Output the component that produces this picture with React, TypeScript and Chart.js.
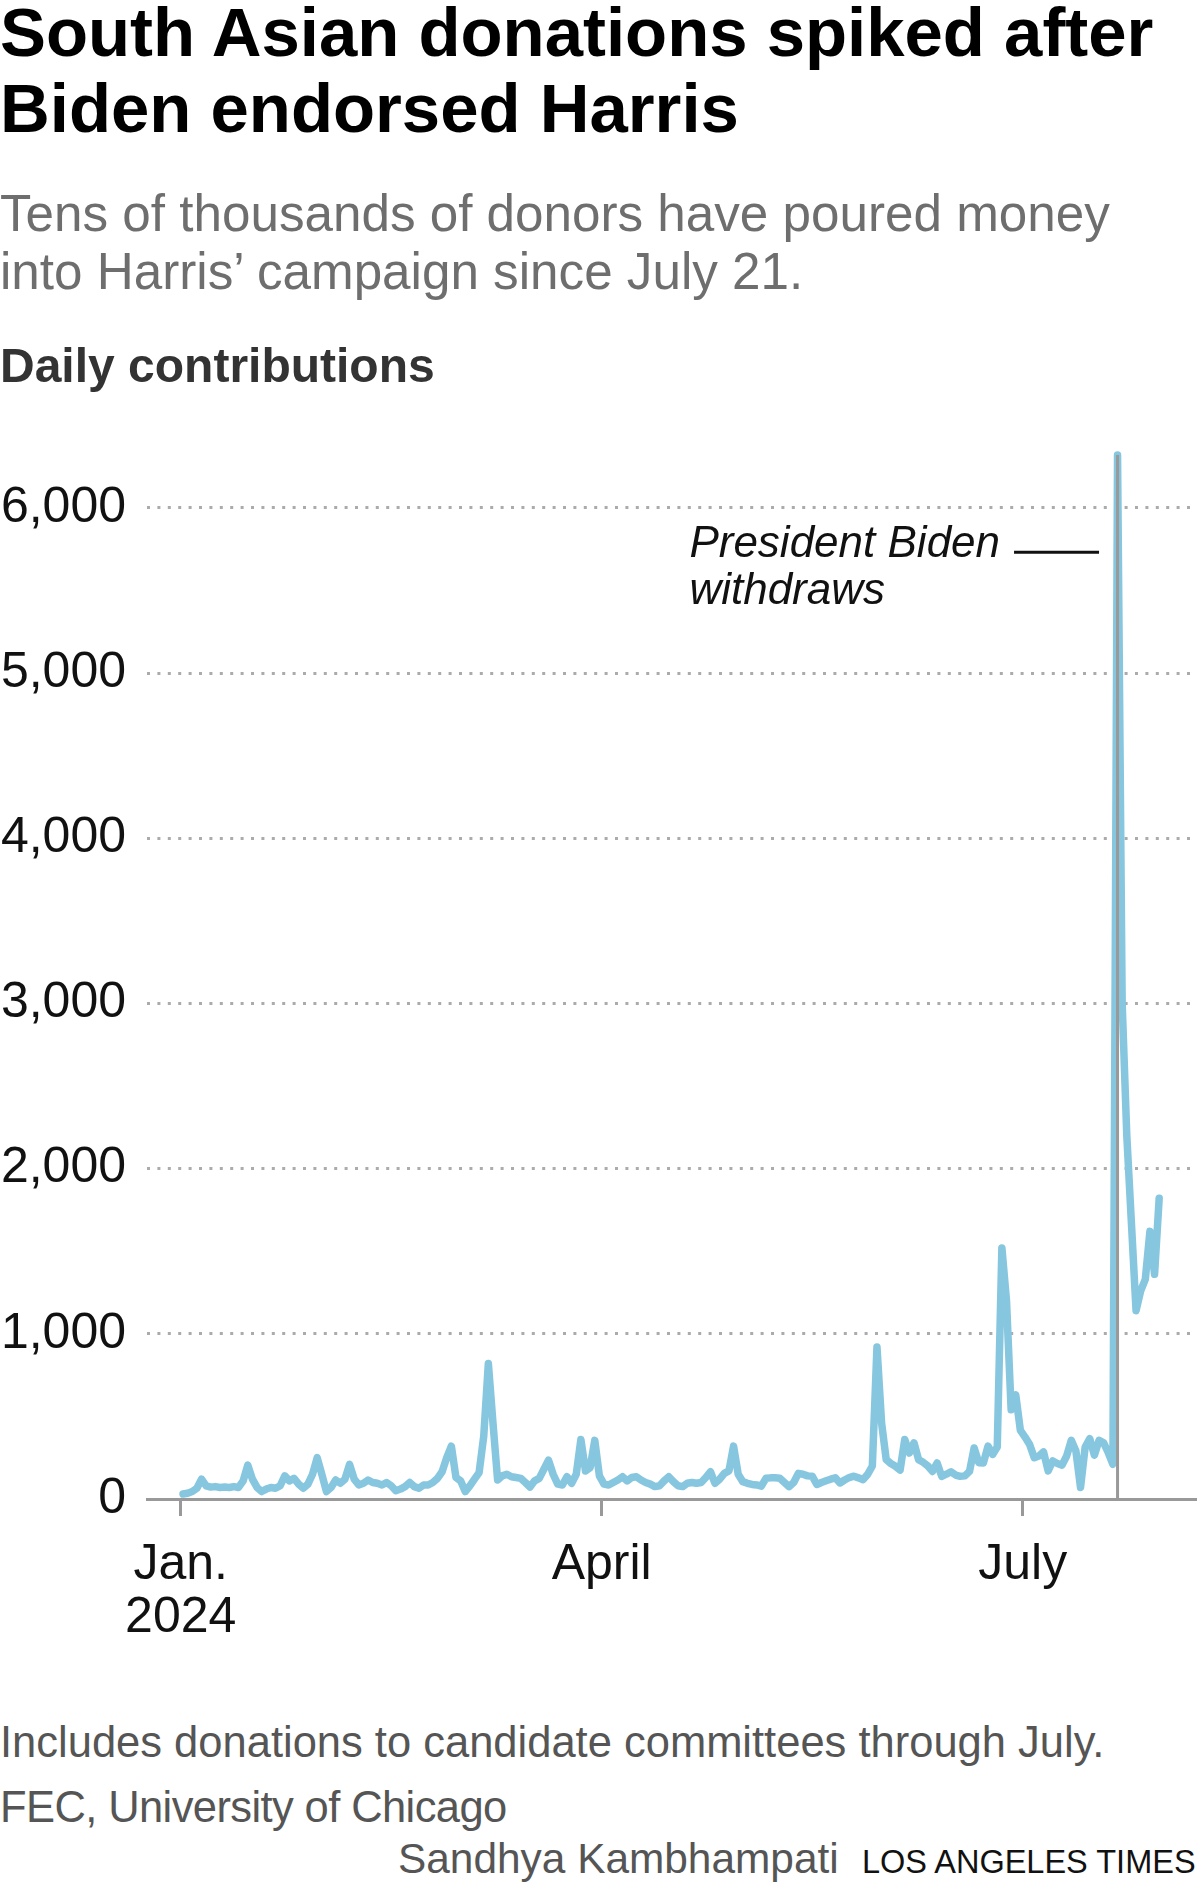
import React, { useEffect, useRef } from "react";
import { Chart, registerables } from "chart.js";

Chart.register(...registerables);

// ---------- DATA ----------
const startDate = "2024-01-01";
// Daily contributions, one value per day starting Jan. 1, 2024
const dailyContributions: number[] = [
  30, 35, 45, 65, 120, 80, 72, 75, 70, 72,
  70, 75, 70, 110, 205, 120, 70, 45, 60, 70,
  65, 80, 140, 110, 125, 90, 65, 90, 150, 250,
  150, 45, 70, 115, 95, 120, 210, 120, 85, 95,
  115, 100, 95, 85, 100, 80, 50, 60, 75, 100,
  75, 65, 85, 85, 100, 125, 165, 250, 320, 130,
  110, 45, 80, 120, 160, 380, 820, 460, 115, 140,
  150, 135, 130, 125, 100, 72, 110, 125, 180, 235,
  150, 90, 85, 135, 95, 150, 360, 170, 190, 355,
  140, 90, 85, 100, 115, 135, 110, 130, 135, 115,
  100, 90, 75, 80, 110, 135, 105, 80, 75, 95,
  100, 95, 100, 130, 165, 95, 120, 155, 170, 320,
  150, 105, 95, 88, 85, 78, 125, 128, 128, 126,
  100, 75, 100, 155, 150, 140, 138, 88, 100, 110,
  120, 128, 97, 115, 130, 138, 128, 117, 150, 200,
  920, 460, 238, 215, 198, 175, 360, 278, 340, 238,
  222, 200, 167, 218, 137, 150, 165, 145, 137, 140,
  167, 309, 220, 218, 320, 270, 315, 1520, 1200, 540,
  630, 415, 375, 330, 250, 260, 285, 170, 230, 215,
  205, 260, 355, 290, 70, 315, 365, 265, 355, 340,
  280, 210, 6320, 3000, 2200, 1670, 1140, 1260, 1330, 1620,
  1360, 1820,
];
const yTickValues = [0, 1000, 2000, 3000, 4000, 5000, 6000];
const xTickDays = [0, 91, 182]; // days since Jan. 1: Jan. 1, April 1, July 1
const xTickLabels = [["Jan.", "2024"], ["April"], ["July"]];
const annotationDay = 202; // July 21
const annotationLabel = ["President Biden", "withdraws"];

const titleLines = ["South Asian donations spiked after", "Biden endorsed Harris"];
const subtitleLines = ["Tens of thousands of donors have poured money", "into Harris\u2019 campaign since July 21."];
const axisTitle = "Daily contributions";
const noteText = "Includes donations to candidate committees through July.";
const sourceText = "FEC, University of Chicago";
const bylineText = "Sandhya Kambhampati";
const outletText = "LOS ANGELES TIMES";

// ---------- STYLE ----------
const SANS = "'Liberation Sans', Arial, Helvetica, sans-serif";
const LINE_COLOR = "#86c6df";
const GRID_COLOR = "#ababab";
const AXIS_COLOR = "#999999";

const CANVAS_TOP = 300;
const CANVAS_H = 1380;

type TProps = {
  text: string;
  left: number;
  baseline: number;
  size: number;
  weight?: number;
  color?: string;
  italic?: boolean;
  spacing?: number;
};

const T = ({ text, left, baseline, size, weight = 400, color = "#000", italic = false, spacing = 0 }: TProps) => (
  <div
    style={{
      position: "absolute",
      left,
      top: baseline - 0.8465 * size,
      fontSize: size,
      lineHeight: `${size}px`,
      fontWeight: weight,
      fontStyle: italic ? "italic" : "normal",
      letterSpacing: spacing,
      color,
      fontFamily: SANS,
      whiteSpace: "nowrap",
    }}
  >
    {text}
  </div>
);

const annotationPlugin = {
  id: "bidenWithdraws",
  afterDatasetsDraw(chart: any) {
    const { ctx } = chart;
    const xs = chart.scales.x;
    const ys = chart.scales.y;
    const px = xs.getPixelForValue(annotationDay + 0.5);
    const top = ys.getPixelForValue(dailyContributions[annotationDay]);
    const bottom = ys.getPixelForValue(0);
    ctx.save();
    ctx.strokeStyle = AXIS_COLOR;
    ctx.lineWidth = 3;
    ctx.beginPath();
    ctx.moveTo(px, bottom);
    ctx.lineTo(px, top);
    ctx.stroke();

    const ty = ys.getPixelForValue(5700);
    ctx.font = `italic 44px ${SANS}`;
    ctx.fillStyle = "#111";
    ctx.textBaseline = "alphabetic";
    ctx.textAlign = "left";
    const w = ctx.measureText(annotationLabel[0]).width;
    const left = px - 117.5 - w;
    ctx.fillText(annotationLabel[0], left, ty);
    ctx.fillText(annotationLabel[1], left, ty + 47);

    ctx.strokeStyle = "#111";
    ctx.lineWidth = 3;
    ctx.beginPath();
    ctx.moveTo(px - 103.5, ty - 5);
    ctx.lineTo(px - 18.5, ty - 5);
    ctx.stroke();
    ctx.restore();
  },
};

function DonationsChart() {
  const ref = useRef<HTMLCanvasElement | null>(null);
  useEffect(() => {
    if (!ref.current) return;
    const pxPerDay = 842 / 182;
    const areaLeft = 147;
    const areaRight = 1195;
    const xMin = -(180.7 - areaLeft) / pxPerDay;
    const xMax = xMin + (areaRight - areaLeft) / pxPerDay;
    const yMax = 6500;
    const areaTop = 1499 - (yMax / 1000) * 165.2;

    const chart = new Chart(ref.current, {
      type: "line",
      data: {
        datasets: [
          {
            data: dailyContributions.map((v, i) => ({ x: i + 0.5, y: v })),
            borderColor: LINE_COLOR,
            borderWidth: 7.5,
            pointRadius: 0,
            tension: 0,
            borderJoinStyle: "round",
            borderCapStyle: "round",
            fill: false,
            clip: false as any,
          },
        ],
      },
      options: {
        animation: false,
        responsive: false,
        devicePixelRatio: 1,
        events: [],
        layout: { padding: { top: areaTop - CANVAS_TOP, right: 1200 - areaRight, left: 0, bottom: 0 } },
        plugins: { legend: { display: false }, tooltip: { enabled: false } },
        scales: {
          x: {
            type: "linear",
            min: xMin,
            max: xMax,
            afterBuildTicks: (s: any) => {
              s.ticks = xTickDays.map((v) => ({ value: v }));
            },
            afterFit: (s: any) => {
              s.height = CANVAS_H - (1499 - CANVAS_TOP);
            },
            ticks: {
              autoSkip: false,
              maxRotation: 0,
              minRotation: 0,
              padding: 23,
              color: "#111",
              font: { family: SANS, size: 50, lineHeight: 1.06 },
              callback: (v: any) => {
                const idx = xTickDays.indexOf(Number(v));
                return idx >= 0 ? xTickLabels[idx] : "";
              },
            },
            grid: {
              drawOnChartArea: false,
              drawTicks: true,
              tickLength: 17,
              color: AXIS_COLOR,
              tickColor: AXIS_COLOR,
              lineWidth: 3,
              tickWidth: 3,
            },
            border: { display: true, color: AXIS_COLOR, width: 3 },
          },
          y: {
            type: "linear",
            min: 0,
            max: yMax,
            afterBuildTicks: (s: any) => {
              s.ticks = yTickValues.map((v) => ({ value: v }));
            },
            afterFit: (s: any) => {
              s.width = areaLeft;
            },
            ticks: {
              padding: 21,
              color: "#111",
              font: { family: SANS, size: 50 },
              callback: (v: any) => Number(v).toLocaleString("en-US"),
            },
            grid: {
              drawTicks: false,
              lineWidth: 3,
              color: (c: any) => (c.tick && c.tick.value === 0 ? "rgba(0,0,0,0)" : GRID_COLOR),
            },
            border: { display: false, dash: [3, 7.4] },
          },
        },
      },
      plugins: [annotationPlugin],
    } as any);
    return () => chart.destroy();
  }, []);
  return (
    <canvas
      ref={ref}
      width={1200}
      height={CANVAS_H}
      style={{ position: "absolute", left: 0, top: CANVAS_TOP, width: 1200, height: CANVAS_H, display: "block" }}
    />
  );
}

export default function App() {
  useEffect(() => {
    document.body.style.margin = "0";
  }, []);
  return (
    <div style={{ position: "absolute", left: 0, top: 0, width: 1200, height: 1889, background: "#fff", overflow: "hidden" }}>
      <DonationsChart />
      <T text={titleLines[0]} left={0} baseline={57} size={68.9} weight={700} color="#000" />
      <T text={titleLines[1]} left={0} baseline={133} size={68.9} weight={700} color="#000" />
      <T text={subtitleLines[0]} left={0} baseline={231.5} size={51.2} color="#6e6e6e" />
      <T text={subtitleLines[1]} left={0} baseline={289.5} size={51.2} color="#6e6e6e" />
      <T text={axisTitle} left={0} baseline={383} size={48} weight={700} color="#333" />
      <T text={noteText} left={0} baseline={1757.5} size={43.5} color="#555" />
      <T text={sourceText} left={0} baseline={1822.5} size={43.5} color="#555" spacing={-0.6} />
      <T text={bylineText} left={398} baseline={1873.5} size={42.4} color="#555" />
      <T text={outletText} left={862} baseline={1873.5} size={32.5} color="#111" />
    </div>
  );
}
